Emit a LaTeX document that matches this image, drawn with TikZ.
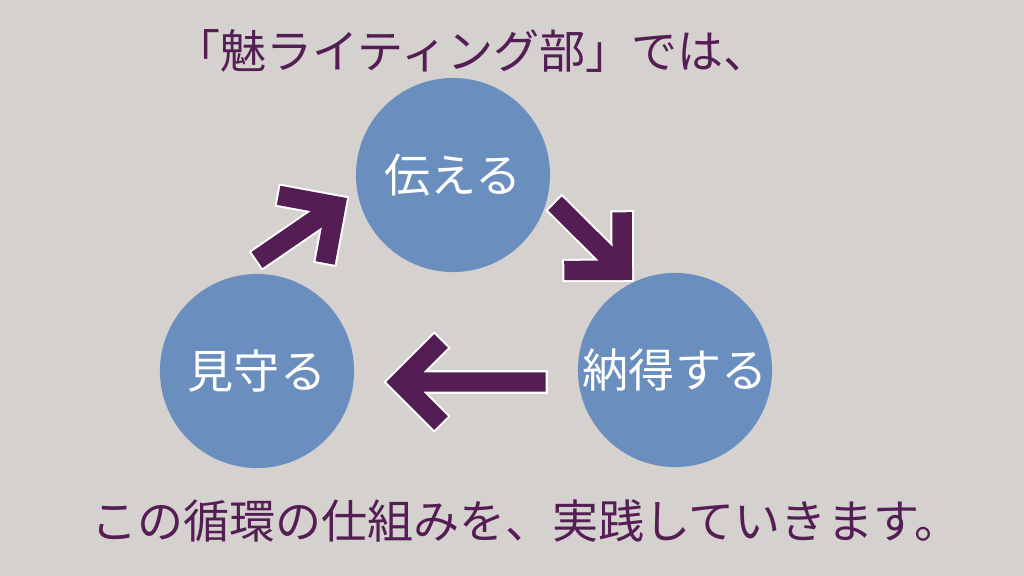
\documentclass[tikz,border=0pt]{standalone}
\usepackage{fontspec}
\newfontfamily\jpfont{Noto Sans CJK JP}
\usetikzlibrary{calc}

\definecolor{bggrey}{HTML}{D5D1CE}
\definecolor{cycleblue}{HTML}{6A8EBE}
\definecolor{cyclepurple}{HTML}{541E55}

\begin{document}
\begin{tikzpicture}[x=0.01cm,y=-0.01cm,
  bubble/.style={circle,fill=cycleblue,minimum size=1.94cm,inner sep=0pt,
    text=white,font=\jpfont\fontsize{13.1pt}{15pt}\selectfont},
  caption/.style={text=cyclepurple,inner sep=0pt,
    font=\jpfont\fontsize{13.1pt}{15pt}\selectfont},
  arrowedge/.style={white,line width=6.66pt,line join=miter,
    shorten <=-0.57pt,shorten >=-0.57pt},
  arrowbody/.style={cyclepurple,line width=5.52pt,line join=miter}]

  % Background
  \fill[bggrey] (0,0) rectangle (1024,576);

  % Heading and closing line
  \node[caption] (heading) at (472,51) {「魅ライティング部」では、};
  \node[caption] (closing) at (526,521) {この循環の仕組みを、実践していきます。};

  % Circles of the cycle
  \node[bubble] (tsutaeru) at (453,175) {伝える};
  \node[bubble] (nattoku)  at (675,370) {納得する};
  \node[bubble] (mimamoru) at (257,371) {見守る};

  % Arrow ends
  \coordinate (upTail)    at (257,260);
  \coordinate (upTip)     at (335.7,205.9);
  \coordinate (downTail)  at (555,203.5);
  \coordinate (downTip)   at (622.3,270.3);
  \coordinate (backTail)  at (545.7,382);
  \coordinate (backTip)   at (400,382);

  % Arrow: mimamoru -> tsutaeru
  \draw[arrowedge] (upTail) -- (upTip);
  \draw[arrowedge] ($(upTip)!0.58cm!45:(upTail)$) -- (upTip) -- ($(upTip)!0.58cm!-45:(upTail)$);
  \draw[arrowbody] (upTail) -- (upTip)
    ($(upTip)!0.58cm!45:(upTail)$) -- (upTip) -- ($(upTip)!0.58cm!-45:(upTail)$);

  % Arrow: tsutaeru -> nattoku
  \draw[arrowedge] (downTail) -- (downTip);
  \draw[arrowedge] ($(downTip)!0.58cm!45:(downTail)$) -- (downTip) -- ($(downTip)!0.58cm!-45:(downTail)$);
  \draw[arrowbody] (downTail) -- (downTip)
    ($(downTip)!0.58cm!45:(downTail)$) -- (downTip) -- ($(downTip)!0.58cm!-45:(downTail)$);

  % Arrow: nattoku -> mimamoru
  \draw[arrowedge] (backTail) -- (backTip);
  \draw[arrowedge] ($(backTip)!0.58cm!45:(backTail)$) -- (backTip) -- ($(backTip)!0.58cm!-45:(backTail)$);
  \draw[arrowbody] (backTail) -- (backTip)
    ($(backTip)!0.58cm!45:(backTail)$) -- (backTip) -- ($(backTip)!0.58cm!-45:(backTail)$);

\end{tikzpicture}
\end{document}
